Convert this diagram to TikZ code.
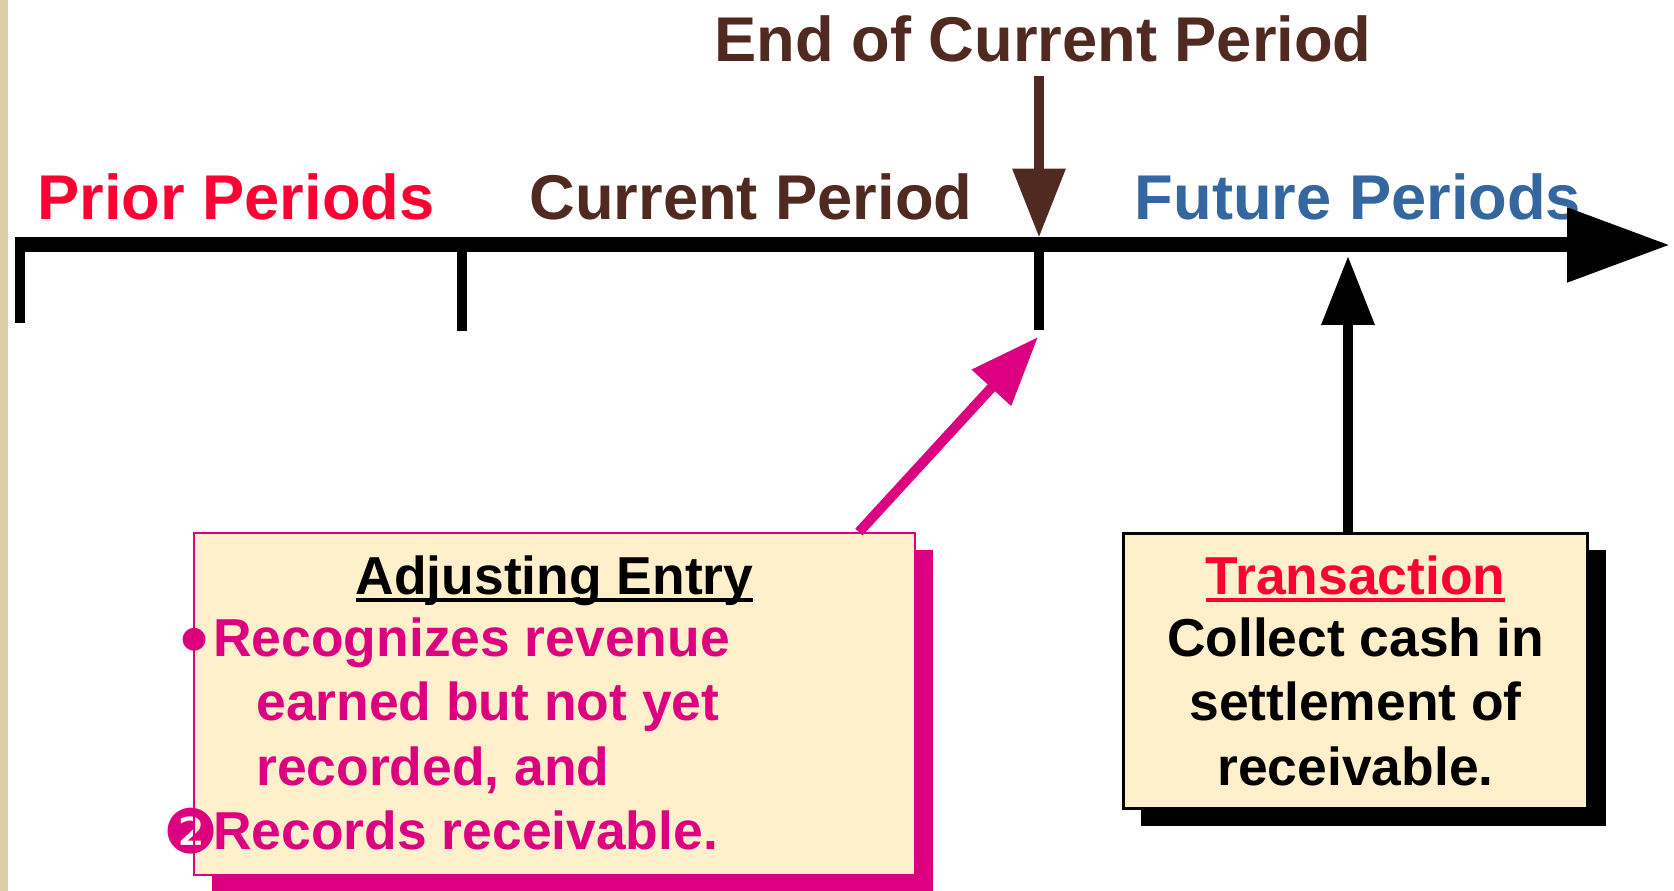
\documentclass[tikz,border=0pt]{standalone}
\usepackage{fontspec}
\setmainfont{Liberation Sans}
\newfontfamily\dingfont{DejaVu Sans}
\usepackage{xcolor}
\usetikzlibrary{arrows.meta, positioning, shadows}

\definecolor{priorred}{RGB}{255,0,51}
\definecolor{periodbrown}{RGB}{80,42,32}
\definecolor{futureblue}{RGB}{52,102,160}
\definecolor{adjpink}{RGB}{220,0,128}
\definecolor{notefill}{RGB}{255,240,204}
\definecolor{edgebeige}{RGB}{222,206,166}

% thick underline under a heading
\newcommand{\ulword}[1]{\setbox0=\hbox{#1}\rlap{\vrule height -0.06cm depth 0.14cm width \wd0}\box0}

\tikzset{
	headlbl/.style={anchor=base, inner sep=0pt, font=\bfseries\fontsize{36}{43}\selectfont},
	notetxt/.style={inner sep=0pt, font=\bfseries\fontsize{30.4}{36}\selectfont},
	bigarrow/.style={line width=0.2cm, -{Triangle[length=1.38cm, width=1.02cm]}}
}

\begin{document}
\begin{tikzpicture}[x=0.02cm, y=-0.02cm]
	\useasboundingbox (0,0) rectangle (1674,891);
	% Paper edge
	\fill[edgebeige] (0,0) rectangle (8,891);
	% Period labels
	\node[headlbl, periodbrown] (endlbl) at (1043,62) {End of Current Period};
	\node[headlbl, priorred] (prior) at (236,220) {Prior Periods};
	\node[headlbl, periodbrown] (current) at (751,220) {Current Period};
	\node[headlbl, futureblue] (future) at (1358,220) {Future Periods};
	% Time line
	\coordinate (tlstart) at (15,245);
	\coordinate (tlend) at (1670,245);
	\coordinate (tick1) at (20,245);
	\coordinate (tick2) at (462,245);
	\coordinate (tick3) at (1039,245);
	\draw[line width=0.3cm, -{Triangle[length=2.06cm, width=1.42cm]}] (tlstart) -- (tlend);
	\foreach \t/\len in {tick1/86, tick2/94, tick3/93}
		\draw[line width=0.2cm] ([yshift=0.15cm]\t) -- ++(0,\len);
	% End of period marker
	\draw[bigarrow, periodbrown, shorten <=0.26cm] (tick3 |- endlbl.south) -- ([yshift=0.15cm]tick3);
	% Adjusting entry block
	\node[draw=adjpink,
	line width=0.04cm,
	fill=notefill,
	minimum width=14.42cm,
	minimum height=6.84cm,
	drop shadow={shadow xshift=0.36cm, shadow yshift=-0.34cm, fill=adjpink, opacity=1}] (adjbox) at (554.5,704) {};
	\node[notetxt, anchor=base] (adjtitle) at (554.5,595) {\ulword{Adjusting Entry}};
	\node[notetxt, adjpink, anchor=base west] (adj1) at (213,657) {Recognizes revenue};
	\node[notetxt, adjpink, anchor=base west] (adj2) at (256,721) {earned but not yet};
	\node[notetxt, adjpink, anchor=base west] (adj3) at (256,785) {recorded, and};
	\node[notetxt, adjpink, anchor=base west] (adj4) at (213,849) {Records receivable.};
	\node[inner sep=0pt, adjpink, font=\dingfont\fontsize{17}{20}\selectfont] (bullet1) at (195,640) {●};
	\node[inner sep=0pt, adjpink, font=\dingfont\fontsize{35}{40}\selectfont] (bullet2) at (191,831) {❷};
	% Transaction block
	\node[draw,
	line width=0.06cm,
	fill=notefill,
	minimum width=9.3cm,
	minimum height=5.52cm,
	drop shadow={shadow xshift=0.36cm, shadow yshift=-0.34cm, fill=black, opacity=1}] (trbox) at (1355.5,671) {};
	\node[notetxt, priorred, anchor=base] (trtitle) at (1355.5,595) {\ulword{Transaction}};
	\node[notetxt, anchor=base] (tr1) at (1355.5,657) {Collect cash in};
	\node[notetxt, anchor=base] (tr2) at (1355.5,721) {settlement of};
	\node[notetxt, anchor=base] (tr3) at (1355.5,785) {receivable.};
	% Arrows
	\coordinate (adjtip) at (1038,337);
	\coordinate (trtip) at (1348,256);
	\draw[bigarrow, adjpink] ([xshift=-1.14cm]adjbox.north east) -- (adjtip);
	\draw[bigarrow] (trtip |- trbox.north) -- (trtip);
\end{tikzpicture}
\end{document}
